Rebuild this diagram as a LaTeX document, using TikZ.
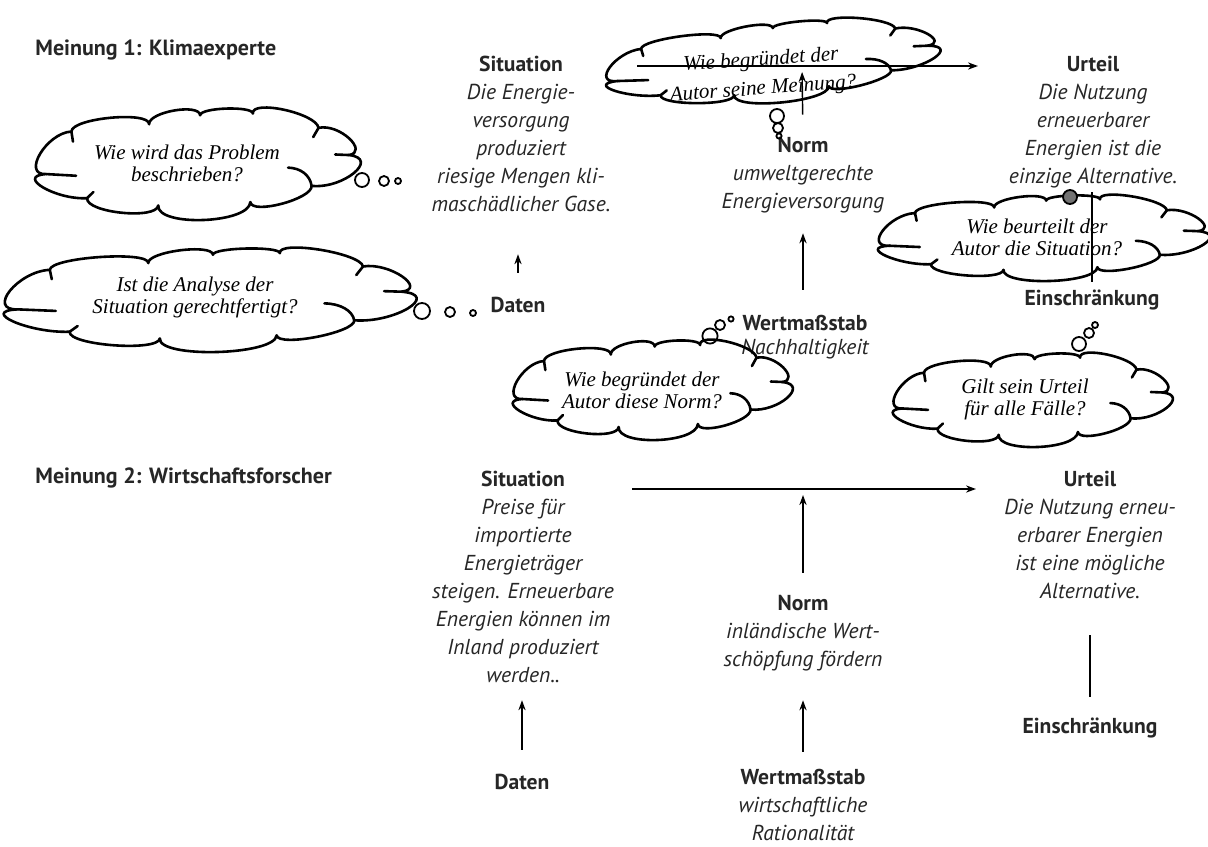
\documentclass[tikz,border=0pt]{standalone}
\usepackage{fontspec}
\setmainfont{PT Sans}
\newfontfamily\handfont{Liberation Serif}
\usetikzlibrary{arrows.meta}
\tikzset{
  cline/.style={line width=1.3pt, line cap=round, line join=round},
  cloudpic/.pic={
    \draw[cline] (-0.96,0.18)
      .. controls (-1.12,0.207) and (-0.96,-0.553) .. (-0.80,-0.58)
      .. controls (-0.797,-0.821) and (-0.302,-0.951) .. (-0.305,-0.71)
      .. controls (-0.31,-0.93) and (0.015,-1.09) .. (0.02,-0.87)
      .. controls (0.02,-1.01) and (0.356,-1.04) .. (0.356,-0.90)
      .. controls (0.344,-1.16) and (0.762,-0.905) .. (0.774,-0.645)
      .. controls (0.911,-0.728) and (1.097,-0.213) .. (0.967,-0.16)
      .. controls (1.169,-0.10) and (0.932,0.45) .. (0.73,0.39)
      .. controls (0.737,0.623) and (0.347,0.913) .. (0.34,0.68)
      .. controls (0.331,1.067) and (-0.256,1.127) .. (-0.247,0.74)
      .. controls (-0.256,1.0) and (-0.709,0.87) .. (-0.70,0.61)
      .. controls (-0.90,0.643) and (-1.16,0.213) .. (-0.96,0.18);
    \draw[cline] (-0.96,0.18) -- (-0.77,0.21);
    \draw[cline] (0.967,-0.16) -- (0.88,-0.17);
    \draw[cline] (0.58,0.065) .. controls (0.66,0.07) and (0.72,0.2) .. (0.73,0.39);
    \draw[cline] (-0.80,-0.58) -- (-0.79,-0.40);
    \draw[cline] (-0.70,0.61) -- (-0.66,0.50);
    \draw[cline] (0.774,-0.645) -- (0.74,-0.48);
  }
}
\newcommand{\hd}[1]{{\upshape\bfseries #1}}
\begin{document}
\begin{tikzpicture}[x=0.5pt,y=-0.5pt,
  lbl/.style={font=\fontsize{10.8}{14}\selectfont\itshape, align=center, inner sep=0pt, text=black!85},
  ttl/.style={font=\fontsize{11}{13}\selectfont\bfseries, anchor=west, inner sep=0pt, text=black!85},
  hand/.style={font=\handfont\itshape\fontsize{10.5}{11}\selectfont, align=center, inner sep=0pt},
  arr/.style={line width=0.7pt, -{Stealth[length=5pt,width=3.6pt]}},
  plain/.style={line width=0.7pt},
  bub/.style={line width=0.9pt},
]
\useasboundingbox (0,0) rectangle (1208,846);
\fill[white] (0,0) rectangle (1208,846);

% titles
\node[ttl] (t1) at (35,50) {Meinung 1: Klimaexperte};
\node[ttl] (t2) at (35,478) {Meinung 2: Wirtschaftsforscher};

% ---------- diagram 1 ----------
\node[lbl] (sit1) at (521,134) {\hd{Situation}\\Die Energie-\\versorgung\\produziert\\riesige Mengen kli-\\maschädlicher Gase.};
\node[lbl] (dat1) at (518,305) {\hd{Daten}};
\node[lbl] (norm1) at (803,175) {\hd{Norm}\\umweltgerechte\\Energieversorgung};
\node[lbl, font=\fontsize{10.8}{12}\selectfont\itshape] (wm1) at (805,337) {\hd{Wertmaßstab}\\Nachhaltigkeit};
\node[lbl] (urt1) at (1093,122) {\hd{Urteil}\\Die Nutzung\\erneuerbarer\\Energien ist die\\einzige Alternative.};
\node[lbl] (ein1) at (1092,300) {\hd{Einschränkung}};

\coordinate (h1a) at (637,66);
\coordinate (h1b) at (978,66);
\coordinate (j1) at (802,66);

% clouds diagram 1
\pic (c1) [xscale=157, yscale=56] at (197,164) {cloudpic};
\node[hand] (q1) at (187,163) {Wie wird das Problem\\beschrieben?};
\draw[bub] (362,180) circle[radius=3.5pt] (384,181) circle[radius=2.5pt] (398,181) circle[radius=1.5pt];

\pic (c2) [xscale=199, yscale=52] at (209,300) {cloudpic};
\node[hand] (q2) at (195,297) {Ist die Analyse der\\Situation gerechtfertigt?};
\draw[bub] (422,311) circle[radius=4pt] (450,312) circle[radius=2.5pt] (473,313) circle[radius=1.5pt];

\pic (c3) [rotate=4, xscale=162, yscale=40] at (772,63) {cloudpic};
\node[hand, rotate=4, font=\handfont\itshape\fontsize{10.5}{14.5}\selectfont] (q3) at (762,75) {Wie begründet der\\Autor seine Meinung?};
\draw[bub] (777,116) circle[radius=3.5pt] (778,128) circle[radius=2.5pt] (779,136) circle[radius=1.3pt];

\pic (c4) [xscale=135, yscale=50] at (652,390) {cloudpic};
\node[hand] (q4) at (642,390) {Wie begründet der\\Autor diese Norm?};
\draw[bub] (710,336) circle[radius=3.8pt] (720,325) circle[radius=2.5pt] (731,319) circle[radius=1.3pt];

\pic (c5) [xscale=160, yscale=43] at (1043,238) {cloudpic};
\node[hand] (q5) at (1037,237) {Wie beurteilt der\\Autor die Situation?};
\draw[bub, fill=black!55] (1070,197) circle[radius=3.5pt];

\pic (c6) [xscale=135, yscale=47] at (1032,400) {cloudpic};
\node[hand] (q6) at (1025,399) {Gilt sein Urteil\\für alle Fälle?};
\draw[bub] (1079,344) circle[radius=3.5pt] (1089,333) circle[radius=2.5pt] (1095,325) circle[radius=1.5pt];

% connectors diagram 1
\draw[arr, shorten <=12pt, shorten >=21pt] (dat1.north) -- (dat1.north |- sit1.south);
\draw[arr, shorten <=12.5pt, shorten >=10pt] (wm1.north -| norm1.south) -- (norm1.south);
\draw[arr, shorten <=11pt, shorten >=3pt] (norm1.north) -- (j1);
\draw[arr] (h1a) -- (h1b);
\draw[plain, shorten <=2pt, shorten >=4pt] (ein1.north |- urt1.south) -- (ein1.north);

% ---------- diagram 2 ----------
\node[lbl] (sit2) at (523,577) {\hd{Situation}\\Preise für\\importierte\\Energieträger\\steigen. Erneuerbare\\Energien können im\\Inland produziert\\werden..};
\node[lbl] (dat2) at (522,782) {\hd{Daten}};
\node[lbl] (norm2) at (803,633) {\hd{Norm}\\inländische Wert-\\schöpfung fördern};
\node[lbl] (wm2) at (803,805) {\hd{Wertmaßstab}\\wirtschaftliche\\Rationalität};
\node[lbl] (urt2) at (1090,535) {\hd{Urteil}\\Die Nutzung erneu-\\erbarer Energien\\ist eine mögliche\\Alternative.};
\node[lbl] (ein2) at (1090,728) {\hd{Einschränkung}};

\coordinate (h2a) at (632,489);
\coordinate (h2b) at (976,489);
\coordinate (j2) at (803,489);

\draw[arr, shorten <=12pt, shorten >=8.5pt] (dat2.north) -- (dat2.north |- sit2.south);
\draw[arr, shorten <=8.5pt, shorten >=14.5pt] (wm2.north) -- (norm2.south);
\draw[arr, shorten <=11pt, shorten >=3pt] (norm2.north) -- (j2);
\draw[arr] (h2a) -- (h2b);
\draw[plain, shorten <=18pt, shorten >=10.5pt] (urt2.south) -- (ein2.north);
\end{tikzpicture}
\end{document}
